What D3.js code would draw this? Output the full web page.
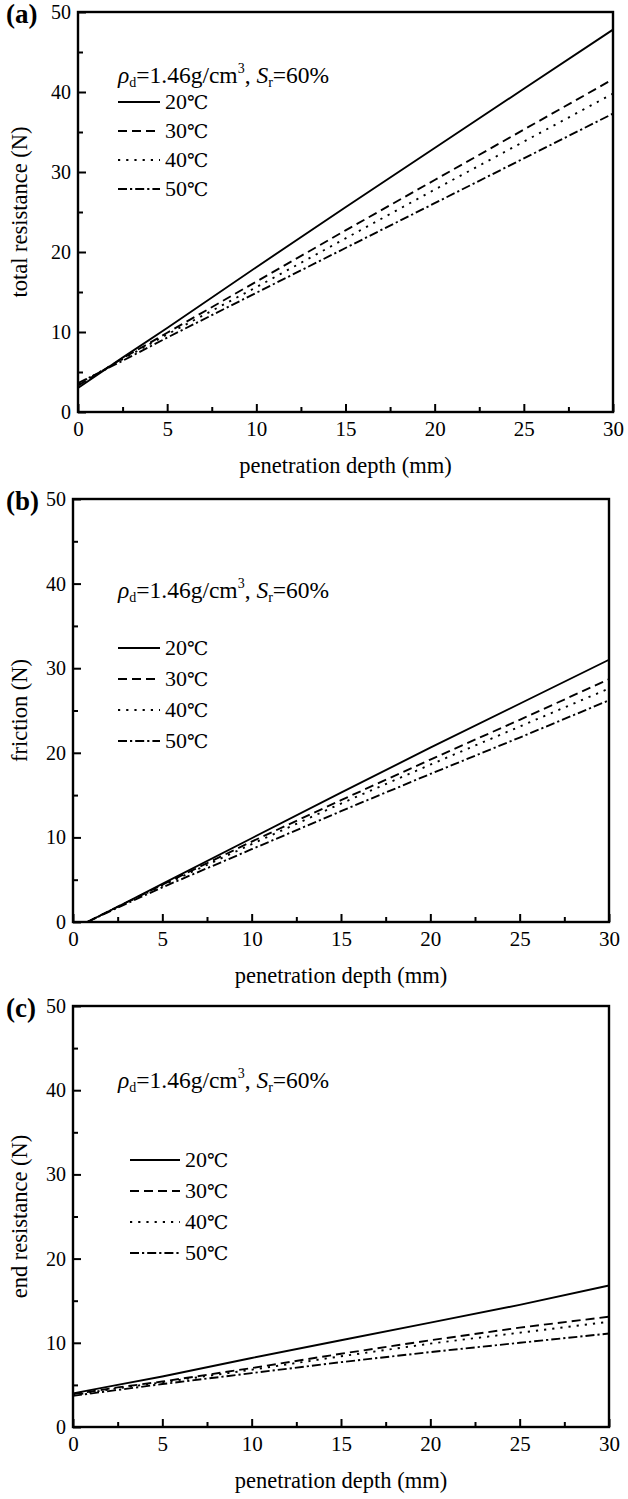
<!DOCTYPE html>
<html>
<head>
<meta charset="utf-8">
<script src="https://cdn.jsdelivr.net/npm/d3@7"></script>
<style>
  html, body { margin: 0; padding: 0; background: #fff; }
  svg { display: block; }
  text { font-family: "Liberation Serif", "Times New Roman", serif; fill: #000; }
</style>
</head>
<body>
<svg id="chart" width="628" height="1499"></svg>
<script>
// ---- data ----
const temperatures = ["20", "30", "40", "50"];
const xTickValues = [0, 5, 10, 15, 20, 25, 30];
const xMinorTicks = [2.5, 7.5, 12.5, 17.5, 22.5, 27.5];
const yTickValues = [0, 10, 20, 30, 40, 50];
const yMinorTicks = [5, 15, 25, 35, 45];

// (a) total resistance
const depthA = [0, 2.5, 5, 10, 15, 20, 25, 30];
const totalT20 = [3.0, 6.8, 10.5, 18.1, 25.6, 33.0, 40.4, 47.8];
const totalT30 = [3.3, 6.7, 9.9, 16.3, 22.7, 29.0, 35.3, 41.6];
const totalT40 = [3.5, 6.6, 9.7, 15.6, 21.7, 27.8, 33.8, 39.8];
const totalT50 = [3.6, 6.4, 9.3, 14.9, 20.5, 26.1, 31.7, 37.3];

// (b) friction
const depthB = [0.8, 2.5, 5, 10, 15, 20, 25, 30];
const frictionT20 = [0, 1.8, 4.5, 9.9, 15.3, 20.6, 25.8, 31.0];
const frictionT30 = [0, 1.8, 4.4, 9.5, 14.4, 19.2, 23.9, 28.7];
const frictionT40 = [0, 1.8, 4.3, 9.2, 14.0, 18.6, 23.1, 27.6];
const frictionT50 = [0, 1.7, 4.1, 8.6, 13.1, 17.5, 21.8, 26.2];

// (c) end resistance
const depthC = [0, 2.5, 5, 10, 15, 20, 25, 30];
const endT20 = [4.0, 5.0, 6.0, 8.2, 10.3, 12.4, 14.5, 16.8];
const endT30 = [3.9, 4.7, 5.4, 7.0, 8.7, 10.3, 11.8, 13.1];
const endT40 = [3.8, 4.6, 5.3, 6.8, 8.4, 9.9, 11.2, 12.5];
const endT50 = [3.7, 4.4, 5.1, 6.4, 7.7, 8.9, 10.0, 11.1];

const xTitle = "penetration depth (mm)";
const panelLabels = ["(a)", "(b)", "(c)"];
const yTitles = ["total resistance (N)", "friction (N)", "end resistance (N)"];

// ---- layout / style ----
const dashes = [null, "9,5", "2.2,6", "9,3,2.2,3"];
const panels = [
  { label: panelLabels[0], ytitle: yTitles[0], depth: depthA, series: [totalT20, totalT30, totalT40, totalT50],
    box: { l: 78, r: 613, t: 12, b: 412 }, ann: { x: 40, y: 71 }, leg: { x: 40, y: 90, dy: 29, len: 42 } },
  { label: panelLabels[1], ytitle: yTitles[1], depth: depthB, series: [frictionT20, frictionT30, frictionT40, frictionT50],
    box: { l: 73, r: 609, t: 499, b: 922 }, ann: { x: 45, y: 99 }, leg: { x: 45, y: 149, dy: 31, len: 42 } },
  { label: panelLabels[2], ytitle: yTitles[2], depth: depthC, series: [endT20, endT30, endT40, endT50],
    box: { l: 73, r: 609, t: 1006, b: 1427 }, ann: { x: 45, y: 82 }, leg: { x: 57, y: 154, dy: 31, len: 50 } }
];

const svg = d3.select("#chart");

panels.forEach(p => {
  const x = d3.scaleLinear().domain([0, 30]).range([p.box.l, p.box.r]);
  const y = d3.scaleLinear().domain([0, 50]).range([p.box.b, p.box.t]);
  const g = svg.append("g");

  // minor ticks
  g.append("g").attr("transform", `translate(0,${p.box.b})`)
    .call(d3.axisBottom(x).tickValues(xMinorTicks).tickSize(-5).tickSizeOuter(0).tickFormat(""))
    .call(a => a.select(".domain").remove())
    .call(a => a.selectAll("line").attr("stroke-width", 2));
  g.append("g").attr("transform", `translate(${p.box.l},0)`)
    .call(d3.axisLeft(y).tickValues(yMinorTicks).tickSize(-5).tickSizeOuter(0).tickFormat(""))
    .call(a => a.select(".domain").remove())
    .call(a => a.selectAll("line").attr("stroke-width", 2));

  // major ticks
  g.append("g").attr("transform", `translate(0,${p.box.b})`)
    .call(d3.axisBottom(x).tickValues(xTickValues).tickSize(-8).tickSizeOuter(0).tickPadding(9))
    .call(a => a.select(".domain").remove())
    .call(a => a.selectAll("line").attr("stroke-width", 2))
    .call(a => a.selectAll("text").attr("font-size", 21).attr("font-family", "Liberation Serif").attr("dy", "0.72em"));
  g.append("g").attr("transform", `translate(${p.box.l},0)`)
    .call(d3.axisLeft(y).tickValues(yTickValues).tickSize(-8).tickSizeOuter(0).tickPadding(7))
    .call(a => a.select(".domain").remove())
    .call(a => a.selectAll("line").attr("stroke-width", 2))
    .call(a => a.selectAll("text").attr("font-size", 20).attr("font-family", "Liberation Serif"));

  // frame
  g.append("rect")
    .attr("x", p.box.l).attr("y", p.box.t)
    .attr("width", p.box.r - p.box.l).attr("height", p.box.b - p.box.t)
    .attr("fill", "none").attr("stroke", "#000").attr("stroke-width", 2.4);

  // lines
  const line = d3.line().x((d, i) => x(p.depth[i])).y(d => y(d));
  p.series.forEach((s, k) => {
    g.append("path").datum(s)
      .attr("d", line)
      .attr("fill", "none").attr("stroke", "#000").attr("stroke-width", 1.9)
      .attr("stroke-dasharray", dashes[k]);
  });

  // axis titles
  g.append("text")
    .attr("x", (p.box.l + p.box.r) / 2).attr("y", p.box.b + 61)
    .attr("text-anchor", "middle").attr("font-size", 22.5)
    .text(xTitle);
  g.append("text")
    .attr("transform", `translate(27,${(p.box.t + p.box.b) / 2}) rotate(-90)`)
    .attr("text-anchor", "middle").attr("font-size", 22.5)
    .text(p.ytitle);

  // panel label
  g.append("text")
    .attr("x", 6).attr("y", p.box.t + 11)
    .attr("font-size", 27).attr("font-weight", "bold")
    .text(p.label);

  // annotation
  const ann = g.append("text")
    .attr("x", p.box.l + p.ann.x).attr("y", p.box.t + p.ann.y)
    .attr("font-size", 23.5);
  ann.append("tspan").attr("font-style", "italic").text("ρ");
  ann.append("tspan").attr("font-size", 14).attr("dy", 4).text("d");
  ann.append("tspan").attr("dy", -4).text("=1.46g/cm");
  ann.append("tspan").attr("font-size", 14).attr("dy", -10).text("3");
  ann.append("tspan").attr("dy", 10).text(", ");
  ann.append("tspan").attr("font-style", "italic").text("S");
  ann.append("tspan").attr("font-size", 14).attr("dy", 4).text("r");
  ann.append("tspan").attr("dy", -4).text("=60%");

  // legend
  temperatures.forEach((t, k) => {
    const ly = p.box.t + p.leg.y + k * p.leg.dy;
    const lx = p.box.l + p.leg.x;
    g.append("line")
      .attr("x1", lx).attr("x2", lx + p.leg.len)
      .attr("y1", ly).attr("y2", ly)
      .attr("stroke", "#000").attr("stroke-width", 2.2)
      .attr("stroke-dasharray", dashes[k]);
    const tx = g.append("text")
      .attr("x", lx + p.leg.len + 5).attr("y", ly + 7)
      .attr("font-size", 22);
    tx.append("tspan").text(t);
    tx.append("tspan").attr("font-family", "DejaVu Serif").attr("font-size", 19).text("℃");
  });
});
</script>
</body>
</html>
